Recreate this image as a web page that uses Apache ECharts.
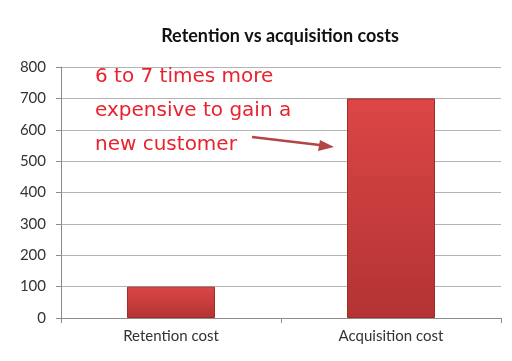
<!DOCTYPE html>
<html><head><meta charset="utf-8">
<script src="https://cdn.jsdelivr.net/npm/echarts@6/dist/echarts.min.js"></script>
<style>html,body{margin:0;padding:0;background:#fff}#c{width:512px;height:361px}</style>
</head><body><div id="c"></div>
<script>
const categories = ['Retention cost', 'Acquisition cost'];
const costs = [100, 700];
const yTicks = [0, 100, 200, 300, 400, 500, 600, 700, 800];
const titleText = 'Retention vs acquisition costs';
const noteLines = ['6 to 7 times more', 'expensive to gain a', 'new customer'];

const chart = echarts.init(document.getElementById('c'));
const barColor = new echarts.graphic.LinearGradient(0, 0, 0, 1, [
  {offset: 0, color: '#dc4646'}, {offset: 1, color: '#b33333'}
]);
chart.setOption({
  animation: false,
  title: {text: titleText, left: 275, top: 22, textAlign: 'center',
    textStyle: {fontFamily: 'Lato', fontWeight: 'bold', fontSize: 18, color: '#111'}},
  grid: {left: 61, right: 11, top: 67, bottom: 43},
  xAxis: {type: 'category', data: categories,
    axisLine: {lineStyle: {color: '#8c8c8c'}},
    axisTick: {show: true, length: 5, lineStyle: {color: '#8c8c8c'}},
    axisLabel: {fontFamily: 'Lato', fontSize: 15, color: '#333', margin: 11}},
  yAxis: {type: 'value', min: yTicks[0], max: yTicks[yTicks.length - 1], interval: 100,
    axisLine: {show: true, lineStyle: {color: '#8c8c8c'}},
    axisTick: {show: true, length: 5, lineStyle: {color: '#8c8c8c'}},
    splitLine: {lineStyle: {color: '#b4b4b4'}},
    axisLabel: {fontFamily: 'Lato', fontSize: 15, color: '#333', margin: 15}},
  series: [{type: 'bar', data: costs, barWidth: '40%',
    itemStyle: {color: barColor, borderColor: '#a02c2c', borderWidth: 1}}],
  graphic: [
    ...noteLines.map((t, i) => ({type: 'text', left: 95, top: 67 + i * 34, z: 10,
      style: {text: t, fill: '#e8222e', font: '20px "DejaVu Sans"'}})),
    {type: 'line', z: 10, shape: {x1: 252, y1: 137, x2: 328, y2: 146},
      style: {stroke: '#b44545', lineWidth: 2.5}},
    {type: 'polygon', z: 10, shape: {points: [[334, 147], [320, 140], [318, 151]]},
      style: {fill: '#b44545'}}
  ]
});
</script></body></html>
